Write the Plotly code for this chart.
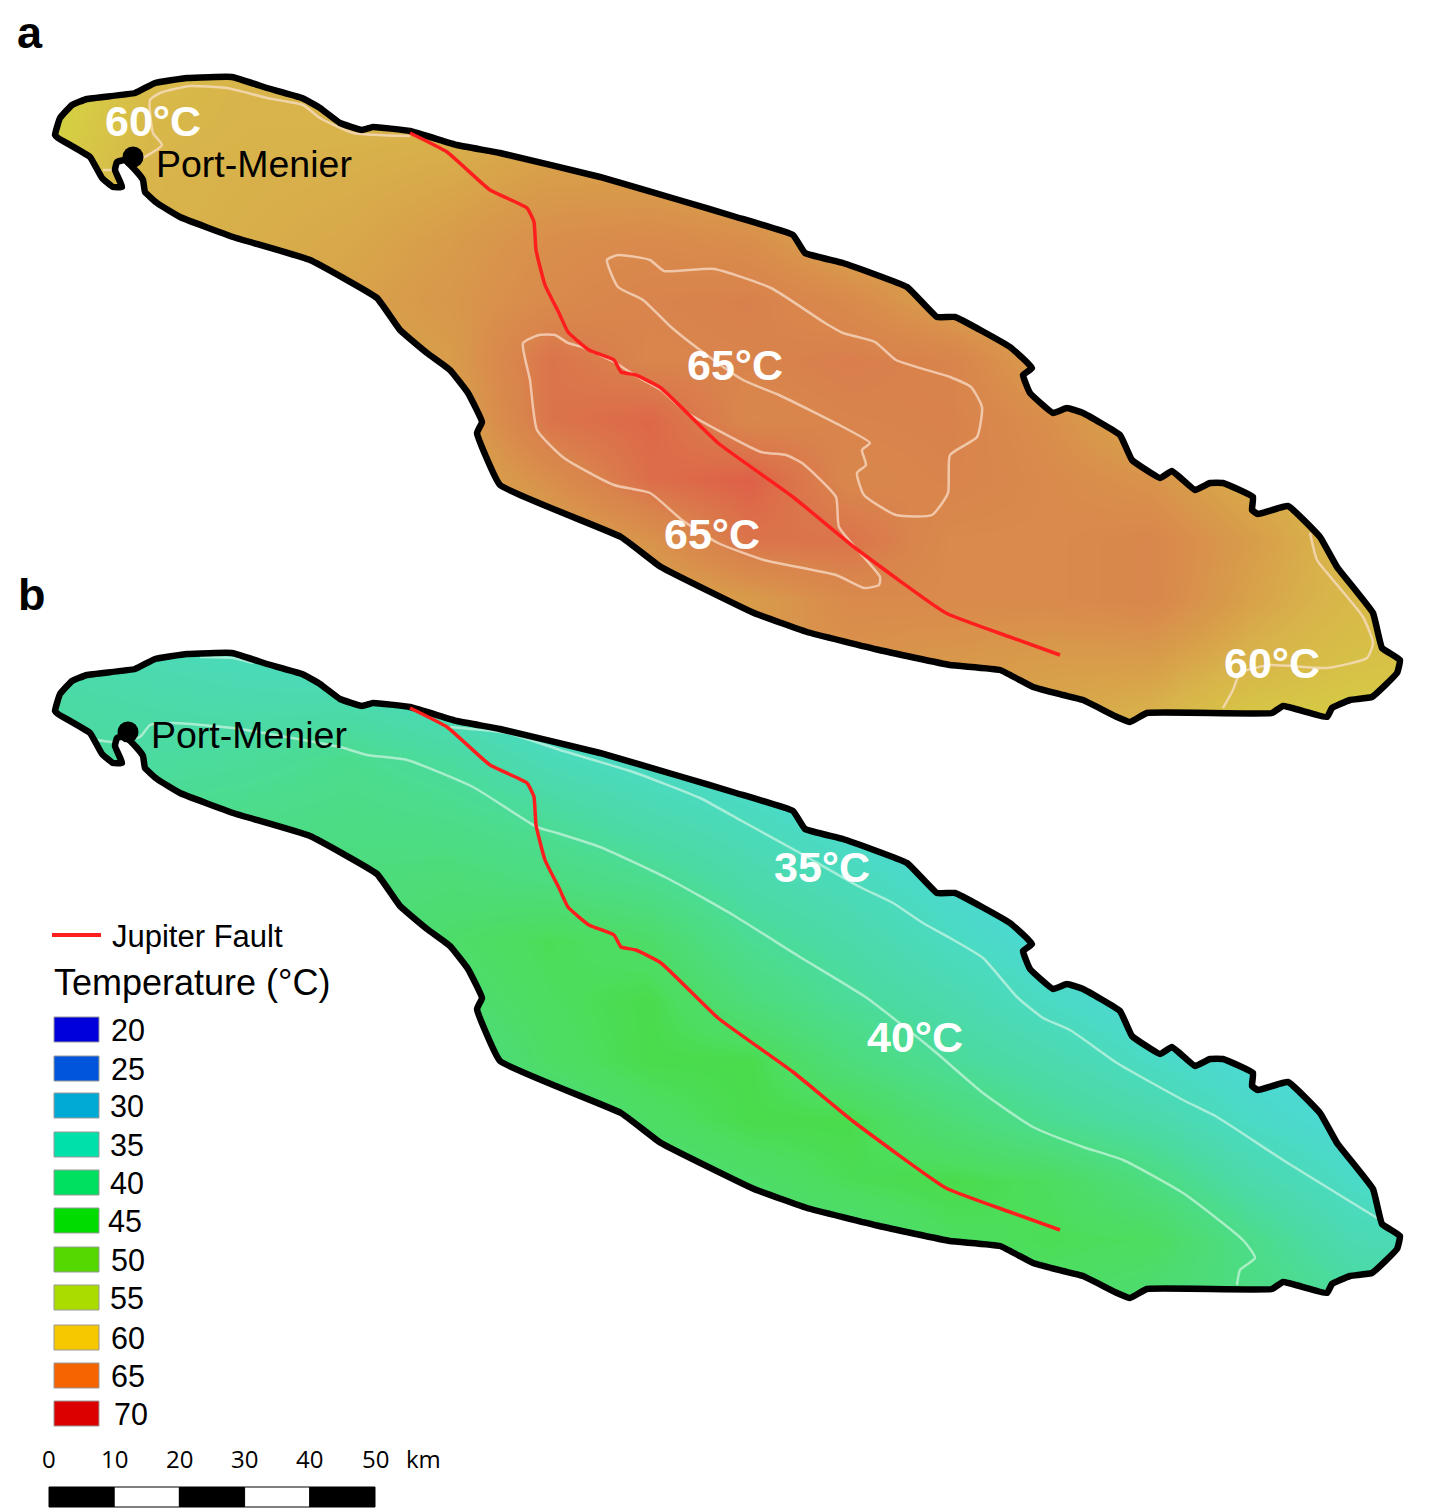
import plotly.graph_objects as go

# ---------- island outline (panel a); panel b repeats it lower on the page ----------
COAST_X = [55,60,72,87,135,155,187,232,267,302,320,340,362,373,410,457,500,600,679,736,793,805,843,907,937,955,1010,
           1032,1023,1030,1053,1067,1083,1120,1132,1160,1172,1195,1210,1223,1253,1252,1258,1288,1320,1337,1373,1382,1400,1397,1372,1350,1332,1327,1283,1272,
           1147,1130,1117,1083,1063,1033,1000,950,879,807,754,661,621,500,477,482,468,450,427,400,377,310,233,180,157,145,143,137,125,117,115,122,113,102,90,58,55]
COAST_Y = [135,118,105,99,93,83,78,77,88,98,108,123,130,127,131,145,153,177,200,217,235,253,263,287,317,317,347,
           368,375,393,413,408,413,435,460,478,471,490,483,483,497,510,514,506,537,567,613,648,660,673,697,700,708,717,706,713,
           713,722,717,700,695,687,670,665,650,632,613,567,537,485,433,422,393,370,353,330,298,260,237,217,203,192,180,172,160,162,170,187,187,178,157,138,135]
PANEL_B_SHIFT = 576

FAULT_X = [410,447,490,527,534,536,545,559,568,589,614,621,636,661,718,793,854,946,1010,1060]
FAULT_Y = [133,152,190,208,222,250,285,313,332,350,360,372,375,388,443,497,547,613,637,655]
FAULT_B_SHIFT = 575

# ---------- isotherms ----------
A65_1_X = [607,618,650,664,714,771,825,843,875,896,950,971,982,977,950,948,932,896,864,857,866,862,870,843,779,743,700,671,643,618,607]
A65_1_Y = [260,255,260,271,269,288,323,333,342,360,377,387,407,437,455,493,515,515,495,473,465,450,443,427,395,380,350,327,300,287,260]
A65_2_X = [523,539,555,568,582,614,636,661,686,761,786,802,836,839,880,879,864,836,764,718,682,650,614,564,537,530,523]
A65_2_Y = [343,335,335,343,347,362,376,390,412,452,455,463,497,527,577,585,588,575,560,543,520,493,485,458,430,380,343]
A60_N_X = [143,162,153,150,160,190,227,267,303,320,353,410]
A60_N_Y = [158,145,133,100,93,86,88,98,105,118,133,136]
A60_W_X = [103,115]
A60_W_Y = [170,170]
A60_E_X = [1310,1317,1333,1363,1373,1367,1327,1270,1240,1233,1223]
A60_E_Y = [533,560,580,617,643,658,668,665,673,690,708]
B35_W_X = [200,233,253]
B35_W_Y = [657,658,663]
B35_E_X = [450,507,560,633,700,740,800,860,893,923,950,983,1017,1043,1070,1117,1183,1217,1283,1377]
B35_E_Y = [727,733,750,772,798,820,853,887,903,923,938,958,997,1018,1030,1063,1100,1117,1160,1218]
B40_X = [97,113,140,150,173,233,340,367,407,473,537,557,600,667,733,800,867,933,983,1033,1083,1123,1183,1243,1255,1240,1237]
B40_Y = [740,742,737,725,723,728,747,755,760,787,827,833,847,878,915,957,998,1050,1093,1127,1147,1160,1193,1240,1258,1270,1285]

# ---------- temperature fields (deg C) ----------
GRID_X = [50,150,250,350,450,550,650,750,850,950,1050,1150,1250,1350,1450]
A_ROWS = [60,120,180,240,300,360,420,480,540,600,660,720]
A_TEMP = [
 [56,59,60,60,60,60,60,60,60,60,60,60,60,60,60],
 [56,59.5,60,60,60,61,61,61,61,61,60,60,60,60,60],
 [57,60,60.3,60.5,61,62,62,61,61,61,60,60,60,60,60],
 [58,60,60.5,61,62,63.5,64,63.5,61,61,60,60,60,60,60],
 [58,60,60.5,61.5,62.5,64,65,65.3,64,61.5,60.5,60,60,60,60],
 [58,60,60.5,61,62,66.5,64.8,65,65.5,65,61.5,60.5,60,60,60],
 [59,60,60,60.5,61,66.5,67.5,64.5,65,65.2,63.5,60.5,60,59.5,59],
 [59,60,60,60,60.5,63.5,67,68,64.5,65,64,63,60.5,59.5,59],
 [59,60,60,60,60,61,63,66.5,66.5,64,64,64.5,62,59.5,59],
 [59,60,60,60,60,60,61,62,64,64,64,64.5,61.5,59.5,59],
 [None,None,None,None,None,None,None,None,63,62.5,62,62,60,58.5,58],
 [None,None,None,None,None,None,None,None,62,61.5,61,60,57.5,57,57],
]
B_ROWS = [640,700,760,820,880,940,1000,1060,1120,1180,1240,1300]
B_TEMP = [
 [37,36,35,34,33,32,32,32,32,32,32,32,32,32,32],
 [38,37.5,37,37,35.5,33,32,32,32,32,32,32,32,32,32],
 [39,38.5,39,40,38.5,36,34.5,33,32,32,32,32,32,32,32],
 [40,40,40.5,41,40.5,39,37,35.4,33.5,32,32,32,32,32,32],
 [41,41,41.5,42,42.5,41.5,40,37.3,35.6,33.5,32,32,32,32,32],
 [41,41,41.5,41.5,44,45.5,44,39.5,37.5,35,33,32,32,32,32],
 [41,41,41,41,43,45,46,42,39,37,34.6,32.8,32,32,32],
 [41,41,41,41,41,44.5,46,46,42,39,37,34.6,33,32,32],
 [41,41,41,41,41,42,44.5,46,46,42.5,39.5,37.5,34.5,33,32],
 [41,41,41,41,41,42,42.5,44,45.5,46,45,41.5,37.2,34.5,33],
 [41,41,41,41,41,42,42.5,43,43,45,45.5,45,40.5,36.5,36],
 [41,41,41,41,41,42,42.5,43,43,43,44.5,43,41.5,39,38],
]
SCALE_T = [20,30,32,35,38,40,43,45,46,50,55,57,60,62,64,65,67,68,70]
SCALE_C = ["#3030DC","#4DD6F0","#4DD8E0","#4BDAC0","#4BDAA4","#4CDC8E","#4DDC72","#4DDD60","#4ADC4C",
           "#70D84A","#C8D840","#D6CC44","#D8B44A","#D89C4A","#D98A4C","#D9844C","#DC6E4A","#DE6048","#E04040"]

# ---------- legend ----------
LEGEND_VALUES = [20,25,30,35,40,45,50,55,60,65,70]
LEGEND_COLORS = ["#0000DC","#0055DC","#00AAD4","#00E0AA","#00E060","#00DC00","#55D800","#AADC00","#F5C800","#F56400","#DC0000"]
LEGEND_TEXT_X = [128,128,127,127,127,125,128,127,128,128,131]
LEGEND_TEXT_Y = [1030,1069,1106,1145,1183,1221,1260,1298,1338,1376,1414]
SCALE_KM = [0,10,20,30,40,50]

# ---------- labels ----------
ISO_LABELS = [("60°C",153,121),("60°C",1272,663),("65°C",735,365),("65°C",712,534),("35°C",822,867),("40°C",915,1037)]
PANEL_LABELS = [("a",30,32),("b",32,594)]
TOWN_NAME = "Port-Menier"
TOWN_A = (133,157)
TOWN_B = (128,732)

ARIAL = "Liberation Sans, Arial, sans-serif"
colorscale = [[(t-20)/50, c] for t, c in zip(SCALE_T, SCALE_C)]
fig = go.Figure()

for rows, temp in ((B_ROWS, B_TEMP), (A_ROWS, A_TEMP)):
    fig.add_trace(go.Heatmap(x=GRID_X, y=rows, z=temp, zmin=20, zmax=70, colorscale=colorscale,
                             zsmooth="best", showscale=False, hoverinfo="skip"))

def area(xs, ys):
    return sum(xs[i]*ys[(i+1) % len(xs)] - xs[(i+1) % len(xs)]*ys[i] for i in range(len(xs)))

coast_b_y = [y + PANEL_B_SHIFT for y in COAST_Y]
# white page mask with the two islands left open
outer_x, outer_y = [0,1429,1429,0,0], [0,0,1512,1512,0]
sign = area(outer_x, outer_y) > 0
mask_x, mask_y = list(outer_x), list(outer_y)
for hy in (COAST_Y, coast_b_y):
    hx, hyy = list(COAST_X), list(hy)
    if (area(hx, hyy) > 0) == sign:
        hx.reverse(); hyy.reverse()
    mask_x += [None] + hx
    mask_y += [None] + hyy
fig.add_trace(go.Scatter(x=mask_x, y=mask_y, mode="none", fill="toself", fillcolor="white", hoverinfo="skip"))

def line(xs, ys, color, width, smoothing=0.5):
    fig.add_trace(go.Scatter(x=xs, y=ys, mode="lines", hoverinfo="skip",
                             line=dict(color=color, width=width, shape="spline", smoothing=smoothing)))

PINK = "rgba(250,225,205,0.72)"
PALE = "rgba(225,250,235,0.62)"
for xs, ys in ((A65_1_X, A65_1_Y), (A65_2_X, A65_2_Y), (A60_N_X, A60_N_Y), (A60_W_X, A60_W_Y), (A60_E_X, A60_E_Y)):
    line(xs, ys, PINK, 2.5)
for xs, ys in ((B35_W_X, B35_W_Y), (B35_E_X, B35_E_Y), (B40_X, B40_Y)):
    line(xs, ys, PALE, 2.5)

for ys in (COAST_Y, coast_b_y):
    line(COAST_X, ys, "black", 6.5, 0.3)
for shift in (0, FAULT_B_SHIFT):
    line(FAULT_X, [y+shift for y in FAULT_Y], "#FF1E1E", 3.5, 0.4)
fig.add_trace(go.Scatter(x=[TOWN_A[0], TOWN_B[0]], y=[TOWN_A[1], TOWN_B[1]], mode="markers", hoverinfo="skip",
                         marker=dict(color="black", size=21)))

def text(s, x, y, size, anchor="left", bold=False, color="black", family=ARIAL):
    fig.add_annotation(x=x, y=y, xref="x", yref="y", text=f"<b>{s}</b>" if bold else s, showarrow=False,
                       xanchor=anchor, yanchor="middle", align=anchor,
                       font=dict(family=family, size=size, color=color))

for s, x, y in ISO_LABELS:
    text(s, x, y, 43, "center", True, "white")
for s, x, y in PANEL_LABELS:
    text(s, x, y, 45, "center", True)
text(TOWN_NAME, 154, 164, 37.5)
text(TOWN_NAME, 149, 735, 37.5)

# legend
fig.add_shape(type="line", x0=52, x1=101, y0=935, y1=935, line=dict(color="#FF1E1E", width=4))
text("Jupiter Fault", 110, 936, 31)
text("Temperature (°C)", 52, 982, 36)
for v, c, tx, yc in zip(LEGEND_VALUES, LEGEND_COLORS, LEGEND_TEXT_X, LEGEND_TEXT_Y):
    fig.add_shape(type="rect", x0=54, x1=99, y0=yc-13, y1=yc+12, fillcolor=c, line=dict(color="#999999", width=1))
    text(str(v), tx, yc, 30.5, "center")

# scale bar
BAR_LEFT, PX_PER_KM = 49, 6.52
for k0, k1 in zip(SCALE_KM[:-1], SCALE_KM[1:]):
    fig.add_shape(type="rect", x0=BAR_LEFT+k0*PX_PER_KM, x1=BAR_LEFT+k1*PX_PER_KM, y0=1487, y1=1507,
                  fillcolor="black" if k0 % 20 == 0 else "white", line=dict(color="black", width=1))
for k in SCALE_KM:
    text(str(k), BAR_LEFT+k*PX_PER_KM, 1458, 24, "center", family="Open Sans, sans-serif")
text("km", 404, 1458, 24, family="Open Sans, sans-serif")

fig.update_layout(width=1429, height=1512, autosize=False, showlegend=False,
                  margin=dict(l=0, r=0, t=0, b=0), paper_bgcolor="white", plot_bgcolor="white",
                  xaxis=dict(range=[0,1429], visible=False, fixedrange=True),
                  yaxis=dict(range=[1512,0], visible=False, fixedrange=True))
fig.write_html("out.html", config={"displayModeBar": False},
               post_script="document.body.style.margin='0';document.documentElement.style.overflow='hidden';")
